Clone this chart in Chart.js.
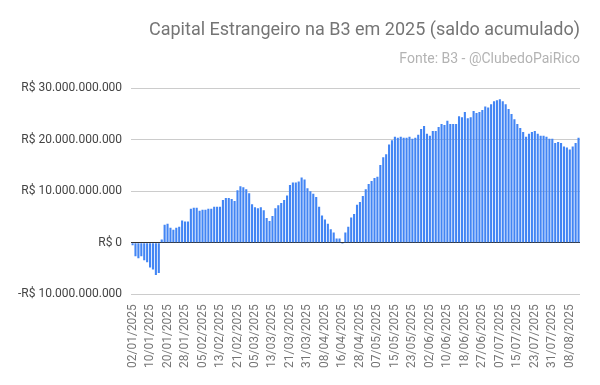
<!DOCTYPE html>
<html>
<head>
<meta charset="utf-8">
<script src="https://cdn.jsdelivr.net/npm/chart.js@4.4.1/dist/chart.umd.min.js"></script>
<style>
  html, body { margin: 0; padding: 0; background: #fff; }
  #wrap { width: 600px; height: 385px; }
</style>
</head>
<body>
<div id="wrap"><canvas id="chart" width="600" height="385"></canvas></div>
<script>
// trading days (B3), 2025
const dates = [
  "02/01/2025","03/01/2025","06/01/2025","07/01/2025","08/01/2025","09/01/2025","10/01/2025","13/01/2025","14/01/2025","15/01/2025",
  "16/01/2025","17/01/2025","20/01/2025","21/01/2025","22/01/2025","23/01/2025","24/01/2025","27/01/2025","28/01/2025","29/01/2025",
  "30/01/2025","31/01/2025","03/02/2025","04/02/2025","05/02/2025","06/02/2025","07/02/2025","10/02/2025","11/02/2025","12/02/2025",
  "13/02/2025","14/02/2025","17/02/2025","18/02/2025","19/02/2025","20/02/2025","21/02/2025","24/02/2025","25/02/2025","26/02/2025",
  "27/02/2025","28/02/2025","05/03/2025","06/03/2025","07/03/2025","10/03/2025","11/03/2025","12/03/2025","13/03/2025","14/03/2025",
  "17/03/2025","18/03/2025","19/03/2025","20/03/2025","21/03/2025","24/03/2025","25/03/2025","26/03/2025","27/03/2025","28/03/2025",
  "31/03/2025","01/04/2025","02/04/2025","03/04/2025","04/04/2025","07/04/2025","08/04/2025","09/04/2025","10/04/2025","11/04/2025",
  "14/04/2025","15/04/2025","16/04/2025","17/04/2025","22/04/2025","23/04/2025","24/04/2025","25/04/2025","28/04/2025","29/04/2025",
  "30/04/2025","02/05/2025","05/05/2025","06/05/2025","07/05/2025","08/05/2025","09/05/2025","12/05/2025","13/05/2025","14/05/2025",
  "15/05/2025","16/05/2025","19/05/2025","20/05/2025","21/05/2025","22/05/2025","23/05/2025","26/05/2025","27/05/2025","28/05/2025",
  "29/05/2025","30/05/2025","02/06/2025","03/06/2025","04/06/2025","05/06/2025","06/06/2025","09/06/2025","10/06/2025","11/06/2025",
  "12/06/2025","13/06/2025","16/06/2025","17/06/2025","18/06/2025","20/06/2025","23/06/2025","24/06/2025","25/06/2025","26/06/2025",
  "27/06/2025","30/06/2025","01/07/2025","02/07/2025","03/07/2025","04/07/2025","07/07/2025","08/07/2025","09/07/2025","10/07/2025",
  "11/07/2025","14/07/2025","15/07/2025","16/07/2025","17/07/2025","18/07/2025","21/07/2025","22/07/2025","23/07/2025","24/07/2025",
  "25/07/2025","28/07/2025","29/07/2025","30/07/2025","31/07/2025","01/08/2025","04/08/2025","05/08/2025","06/08/2025","07/08/2025",
  "08/08/2025","11/08/2025","12/08/2025","13/08/2025"
];

// saldo acumulado, em bilhoes de R$
const saldoBi = [
  -0.5, -2.65, -3.0, -2.65, -3.4, -3.8, -4.8, -5.2, -6.3, -5.9,
  0.6, 3.5, 3.7, 2.9, 2.5, 2.9, 3.1, 4.3, 4.1, 4.1,
  6.6, 6.8, 6.8, 6.2, 6.4, 6.4, 6.6, 6.6, 7.0, 7.0,
  7.0, 8.3, 8.7, 8.7, 8.5, 8.1, 10.2, 11.0, 10.8, 10.4,
  9.6, 7.5, 6.9, 6.7, 6.9, 6.3, 4.8, 4.2, 5.2, 6.7,
  7.3, 7.7, 8.3, 9.2, 11.2, 11.7, 11.7, 11.9, 12.7, 12.3,
  10.6, 10.0, 9.5, 8.9, 7.0, 5.3, 4.5, 3.7, 2.6, 2.0,
  0.8, 0.8, -0.2, 2.0, 3.1, 4.9, 5.6, 7.4, 7.9, 9.1,
  10.4, 11.4, 12.0, 12.6, 12.8, 15.1, 16.6, 17.2, 19.1, 19.9,
  20.6, 20.4, 20.6, 20.4, 20.4, 20.6, 20.2, 20.4, 21.0, 22.1,
  22.7, 21.2, 20.8, 21.7, 21.7, 22.5, 23.1, 22.9, 23.7, 23.1,
  23.1, 23.1, 24.6, 24.4, 25.4, 24.2, 24.4, 25.6, 25.2, 25.4,
  25.8, 26.5, 26.3, 26.9, 27.5, 27.7, 27.9, 27.5, 26.9, 26.0,
  25.0, 24.0, 23.1, 22.3, 21.5, 20.6, 21.2, 21.5, 21.7, 21.2,
  20.8, 20.8, 20.6, 20.2, 20.2, 19.4, 19.6, 19.4, 18.7, 18.5,
  18.1, 18.7, 19.4, 20.4
];

const yTicksBi = [-10, 0, 10, 20, 30];

function brl(bi) {
  const n = Math.round(Math.abs(bi) * 1e9).toString().replace(/\B(?=(\d{3})+(?!\d))/g, ".");
  return (bi < 0 ? "-R$ " : "R$ ") + n;
}

const ctx = document.getElementById("chart").getContext("2d");
new Chart(ctx, {
  type: "bar",
  data: {
    labels: dates,
    datasets: [{
      data: saldoBi,
      backgroundColor: "#4285f4",
      borderWidth: 0,
      barPercentage: 0.72,
      categoryPercentage: 1.0
    }]
  },
  options: {
    responsive: false,
    animation: false,
    layout: { padding: { left: 9, right: 20, top: 0, bottom: 15 } },
    plugins: {
      legend: { display: false },
      tooltip: { enabled: false },
      title: {
        display: true,
        text: "Capital Estrangeiro na B3 em 2025 (saldo acumulado)",
        align: "end",
        color: "#757575",
        font: { family: "Roboto", size: 18, weight: "normal" },
        padding: { top: 20, bottom: 0 }
      },
      subtitle: {
        display: true,
        text: "Fonte: B3 - @ClubedoPaiRico",
        align: "end",
        color: "#b3b3b3",
        font: { family: "Roboto", size: 14, weight: "normal" },
        padding: { top: 9, bottom: 21 }
      }
    },
    scales: {
      x: {
        grid: { display: false },
        border: { display: false },
        ticks: {
          autoSkip: false,
          minRotation: 90,
          maxRotation: 90,
          padding: 2,
          color: "#757575",
          font: { family: "Roboto", size: 12 },
          callback: (v, i) => (i % 6 === 0 ? dates[i] : "")
        }
      },
      y: {
        min: yTicksBi[0],
        max: yTicksBi[yTicksBi.length - 1],
        afterBuildTicks: (axis) => { axis.ticks = yTicksBi.map(v => ({ value: v })); },
        border: { display: false },
        grid: {
          drawTicks: false,
          color: (c) => (c.tick && c.tick.value === 0 ? "#333333" : "#cccccc"),
          lineWidth: 1
        },
        ticks: {
          padding: 9,
          color: "#444444",
          font: { family: "Roboto", size: 12 },
          callback: (v) => brl(v)
        }
      }
    }
  }
});
</script>
</body>
</html>
